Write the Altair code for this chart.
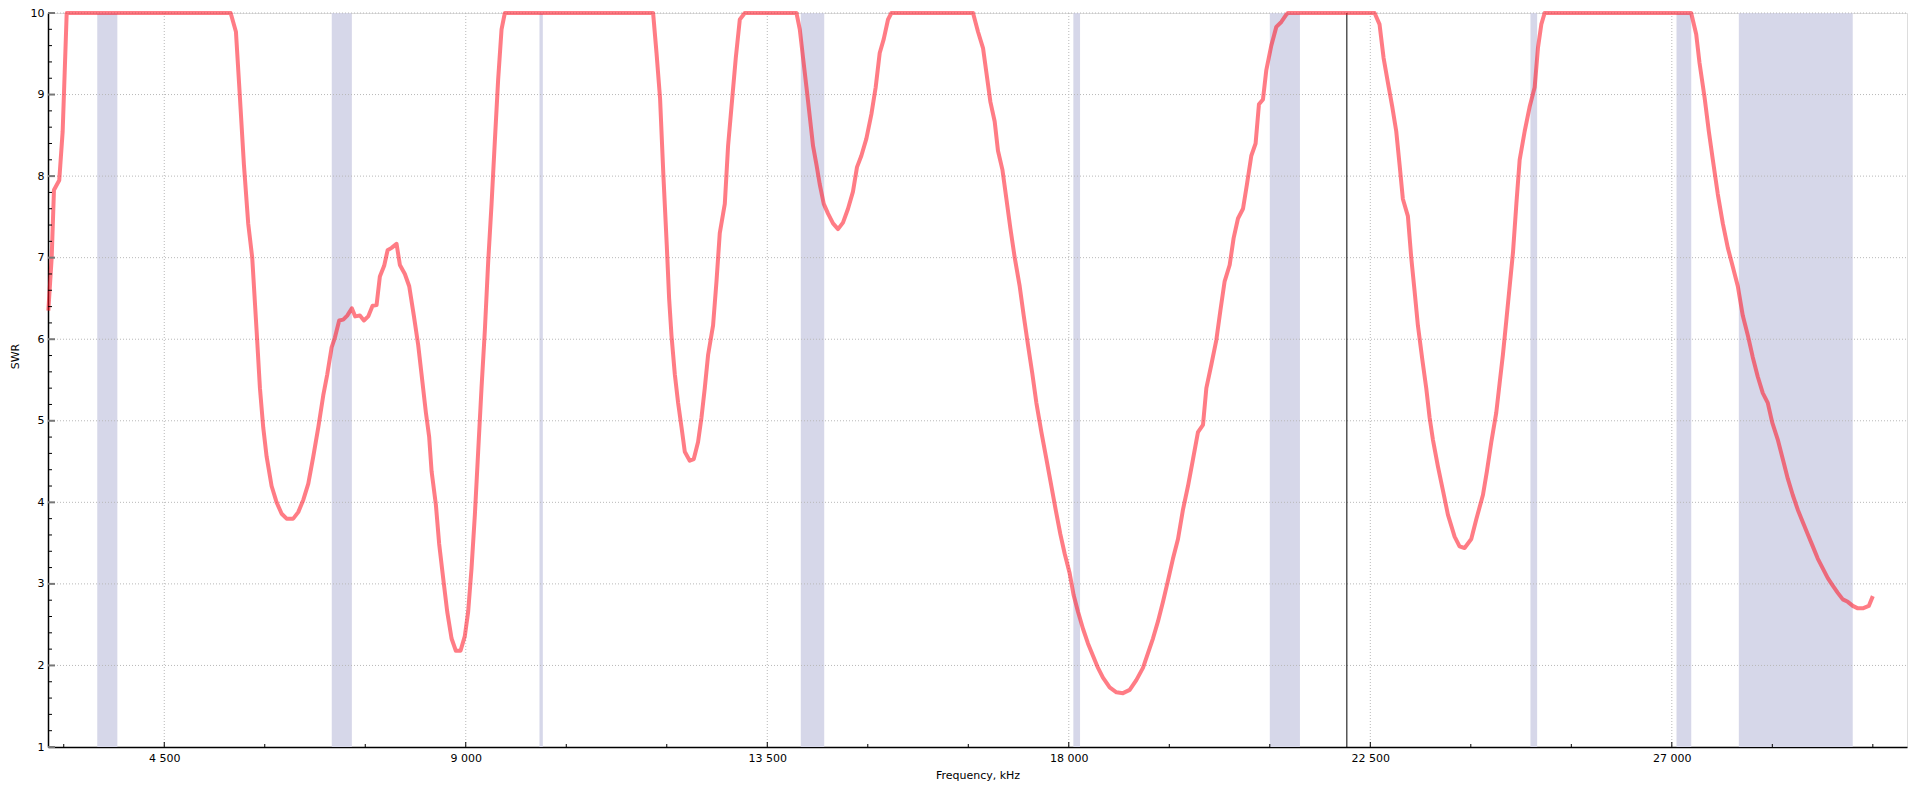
import altair as alt
import pandas as pd

# ---- data ----
freq = [2770, 2820, 2854, 2933, 2984, 3014, 3044, 5491, 5570, 5629, 5689, 5753, 5813, 5878, 5928,
        5977, 6028, 6102, 6177, 6252, 6326, 6425, 6500, 6575, 6650, 6724, 6799, 6873, 6933, 6998,
        7047, 7111, 7171, 7231, 7300, 7350, 7420, 7480, 7544, 7609, 7669, 7718, 7782, 7833, 7893,
        7967, 8017, 8091, 8156, 8225, 8290, 8340, 8405, 8454, 8490, 8554, 8603, 8663, 8723, 8788,
        8852, 8922, 8986, 9036, 9086, 9136, 9185, 9235, 9285, 9334, 9385, 9434, 9483, 9534, 9583,
        11796, 11847, 11900, 11950, 12000, 12035, 12070, 12120, 12169, 12220, 12269, 12343, 12403,
        12467, 12518, 12567, 12617, 12691, 12742, 12791, 12866, 12915, 12966, 13030, 13090, 13164,
        13936, 13985, 14034, 14085, 14134, 14183, 14234, 14283, 14343, 14407, 14481, 14556, 14630,
        14705, 14779, 14839, 14904, 14979, 15054, 15118, 15178, 15238, 15302, 15352,
        16571, 16645, 16720, 16770, 16830, 16894, 16943, 17009, 17069, 17128, 17193, 17267, 17327,
        17391, 17457, 17516, 17591, 17666, 17740, 17804, 17874, 17939, 18013, 18073, 18137, 18212,
        18286, 18361, 18436, 18510, 18610, 18711, 18809, 18909, 19008, 19107, 19182, 19256, 19331,
        19406, 19480, 19555, 19630, 19704, 19779, 19854, 19928, 20003, 20053, 20128, 20202, 20262,
        20326, 20401, 20460, 20525, 20600, 20659, 20724, 20788, 20838, 20898, 20948, 21022, 21097,
        21172, 21246, 21270, 22564, 22638, 22698, 22762, 22828, 22887, 22937, 22986, 23061, 23111,
        23161, 23210, 23276, 23335, 23385, 23434, 23509, 23583, 23658, 23758, 23832, 23907, 24007,
        24081, 24181, 24240, 24306, 24380, 24430, 24479, 24530, 24580, 24629, 24680, 24729, 24804,
        24878, 24953, 25002, 25052, 25102, 27289, 27364, 27413, 27488, 27552, 27612, 27686, 27761,
        27836, 27910, 27985, 28059, 28134, 28208, 28283, 28358, 28432, 28498, 28581, 28656, 28731,
        28805, 28880, 28954, 29029, 29104, 29178, 29253, 29328, 29402, 29477, 29552, 29626, 29701,
        29776, 29850, 29940, 30000]
swr = [6.35, 7.0, 7.83, 7.95, 8.55, 9.27, 10, 10, 9.77, 8.97, 8.14, 7.42, 7.0, 6.11, 5.40,
       4.92, 4.56, 4.20, 4.0, 3.86, 3.80, 3.80, 3.88, 4.03, 4.23, 4.56, 4.92, 5.31, 5.57, 5.90,
       6.02, 6.23, 6.24, 6.29, 6.38, 6.28, 6.29, 6.23, 6.28, 6.41, 6.42, 6.77, 6.90, 7.09, 7.12,
       7.17, 6.91, 6.80, 6.65, 6.29, 5.93, 5.57, 5.10, 4.80, 4.38, 3.97, 3.49, 3.07, 2.66, 2.33,
       2.18, 2.18, 2.36, 2.66, 3.19, 3.85, 4.62, 5.40, 6.11, 6.94, 7.66, 8.43, 9.18, 9.80, 10,
       10, 9.51, 8.95, 8.0, 7.15, 6.5, 6.05, 5.57, 5.22, 4.92, 4.62, 4.51, 4.53,
       4.74, 5.04, 5.40, 5.81, 6.17, 6.71, 7.30, 7.66, 8.37, 8.85, 9.45, 9.92, 10,
       10, 9.80, 9.45, 9.09, 8.73, 8.37, 8.14, 7.90, 7.66, 7.54, 7.42, 7.35, 7.43,
       7.60, 7.81, 8.11, 8.25, 8.46, 8.76, 9.09, 9.51, 9.68, 9.92, 10,
       10, 9.77, 9.57, 9.27, 8.91, 8.67, 8.31, 8.08, 7.72, 7.36, 7.0, 6.65, 6.29,
       5.93, 5.57, 5.22, 4.86, 4.53, 4.20, 3.91, 3.61, 3.37, 3.13, 2.86, 2.66, 2.45,
       2.27, 2.12, 1.97, 1.85, 1.73, 1.67, 1.66, 1.70, 1.82, 1.97, 2.15, 2.33, 2.54,
       2.78, 3.04, 3.31, 3.55, 3.91, 4.20, 4.53, 4.86, 4.95, 5.40, 5.69, 5.99, 6.35,
       6.71, 6.91, 7.24, 7.48, 7.60, 7.90, 8.25, 8.40, 8.88, 8.94, 9.30, 9.60, 9.83,
       9.89, 9.98, 10, 10, 9.86, 9.45, 9.15, 8.85, 8.55, 8.14, 7.72, 7.51, 7.0,
       6.59, 6.17, 5.75, 5.40, 5.04, 4.77, 4.44, 4.15, 3.85, 3.58, 3.46, 3.44, 3.55,
       3.79, 4.09, 4.38, 4.74, 5.10, 5.46, 5.81, 6.23, 6.65, 7.06, 7.66, 8.20, 8.55,
       8.85, 9.09, 9.57, 9.86, 10, 10, 9.74, 9.39, 8.97, 8.55, 8.20, 7.78, 7.42,
       7.12, 6.89, 6.65, 6.29, 6.05, 5.78, 5.54, 5.34, 5.22, 4.98, 4.77, 4.53, 4.29,
       4.09, 3.91, 3.76, 3.61, 3.46, 3.31, 3.19, 3.07, 2.98, 2.89, 2.81, 2.78, 2.73,
       2.70, 2.70, 2.73, 2.85]

band_start = [3500, 7000, 10100, 14000, 18068, 21000, 24890, 27070, 28000]
band_end = [3800, 7300, 10150, 14350, 18168, 21450, 24990, 27290, 29700]

cursor_freq = [22150]

x_major = [4500, 9000, 13500, 18000, 22500, 27000]
x_minor = [3000, 6000, 7500, 10500, 12000, 15000, 16500, 19500, 21000, 24000, 25500, 28500, 30000]
y_major = [1, 2, 3, 4, 5, 6, 7, 8, 9, 10]
y_minor = [1.2, 1.4, 1.6, 1.8, 2.2, 2.4, 2.6, 2.8, 3.2, 3.4, 3.6, 3.8, 4.2, 4.4, 4.6, 4.8,
           5.2, 5.4, 5.6, 5.8, 6.2, 6.4, 6.6, 6.8, 7.2, 7.4, 7.6, 7.8, 8.2, 8.4, 8.6, 8.8,
           9.2, 9.4, 9.6, 9.8]

X_DOMAIN = [2765, 30510]
Y_DOMAIN = [1, 10]
W, H = 1859, 734
FONT = "DejaVu Sans"

curve = pd.DataFrame({"f": freq, "swr": swr})
bands = pd.DataFrame({"start": band_start, "end": band_end})
cursor = pd.DataFrame({"f": cursor_freq})
xmaj = pd.DataFrame({"v": x_major})
xmin = pd.DataFrame({"v": x_minor})
ymaj = pd.DataFrame({"v": y_major})
ymin = pd.DataFrame({"v": y_minor})

xs = alt.Scale(domain=X_DOMAIN, nice=False, zero=False)
ys = alt.Scale(domain=Y_DOMAIN, nice=False, zero=False)

x_axis = alt.Axis(
    title="Frequency, kHz", values=x_major, grid=False, ticks=False,
    labelExpr="replace(format(datum.value, ',d'), ',', ' ')",
    labelFont=FONT, labelFontSize=11, labelColor="#000", labelPadding=5,
    titleFont=FONT, titleFontSize=11, titleFontWeight="normal", titleColor="#000",
    titleY=22, titleBaseline="top",
    domainColor="#000", domainWidth=1.5,
)
y_axis = alt.Axis(
    title="SWR", values=y_major, grid=False, ticks=False, format="d",
    labelFont=FONT, labelFontSize=11, labelColor="#000", labelPadding=4,
    titleFont=FONT, titleFontSize=11, titleFontWeight="normal", titleColor="#000",
    titleX=-33, titleY=343, titleBaseline="middle", titleAngle=270,
    domainColor="#000", domainWidth=1.5,
)

band_layer = alt.Chart(bands).mark_rect(color="#d6d7e9").encode(
    x=alt.X("start:Q", scale=xs, axis=x_axis),
    x2="end:Q",
    y=alt.value(0),
    y2=alt.value(H),
)

grid_y = alt.Chart(ymaj[ymaj.v > 1]).mark_rule(color="#b8b8b8", strokeWidth=1, strokeDash=[1, 2]).encode(
    y=alt.Y("v:Q", scale=ys, axis=y_axis),
    x=alt.value(0), x2=alt.value(W),
)
grid_x = alt.Chart(xmaj).mark_rule(color="#b8b8b8", strokeWidth=1, strokeDash=[1, 2]).encode(
    x=alt.X("v:Q", scale=xs),
    y=alt.value(0), y2=alt.value(H),
)

cursor_layer = alt.Chart(cursor).mark_rule(color="#000", strokeWidth=1).encode(
    x=alt.X("f:Q", scale=xs),
    y=alt.value(0), y2=alt.value(H),
)

line_layer = alt.Chart(curve).mark_line(
    color="#ff1020", strokeOpacity=0.55, strokeWidth=4, strokeJoin="round"
).encode(
    x=alt.X("f:Q", scale=xs),
    y=alt.Y("swr:Q", scale=ys),
    order="f:Q",
)

ytick_major = alt.Chart(ymaj).mark_rule(color="#777", strokeWidth=2).encode(
    y=alt.Y("v:Q", scale=ys), x=alt.value(0), x2=alt.value(7),
)
ytick_minor = alt.Chart(ymin).mark_rule(color="#000", strokeWidth=1).encode(
    y=alt.Y("v:Q", scale=ys), x=alt.value(0), x2=alt.value(4),
)
xtick_major = alt.Chart(xmaj).mark_rule(color="#000", strokeWidth=1).encode(
    x=alt.X("v:Q", scale=xs), y=alt.value(H), y2=alt.value(H - 5),
)
xtick_minor = alt.Chart(xmin).mark_rule(color="#000", strokeWidth=1).encode(
    x=alt.X("v:Q", scale=xs), y=alt.value(H), y2=alt.value(H - 3),
)

chart = alt.layer(
    band_layer, grid_y, grid_x, cursor_layer, line_layer,
    ytick_major, ytick_minor, xtick_major, xtick_minor,
).properties(
    width=W, height=H,
    autosize=alt.AutoSizeParams(type="none"),
    padding={"left": 40, "top": 5, "right": 5, "bottom": 40},
).configure_view(stroke=None).configure(background="white")

chart.save("out.html", embed_options={"renderer": "svg", "actions": False})
